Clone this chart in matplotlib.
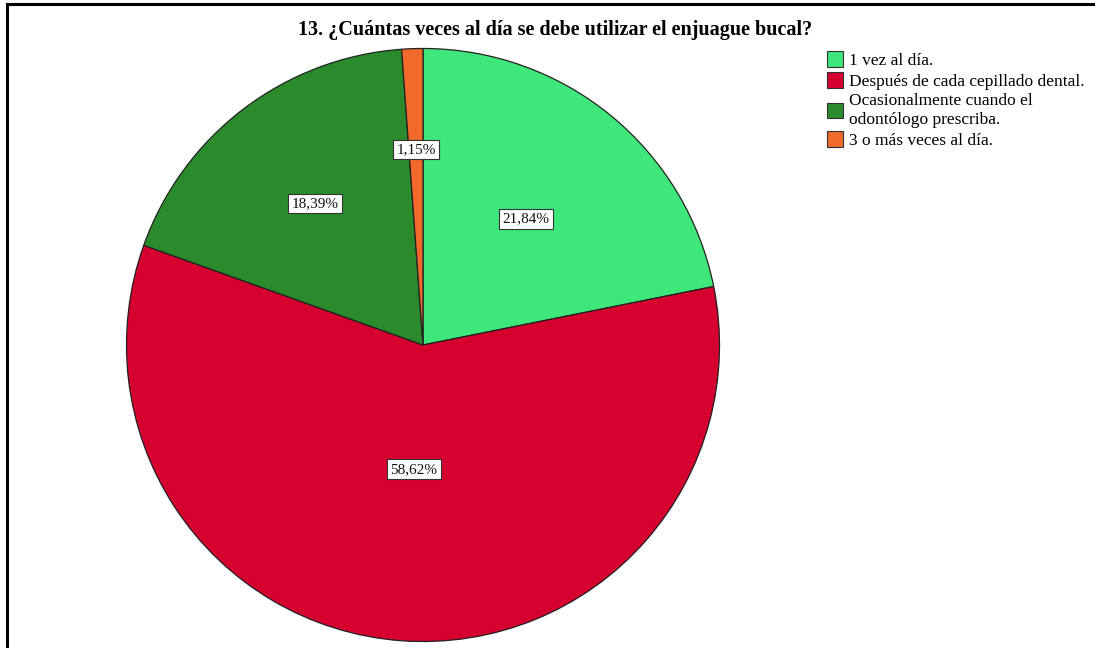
import matplotlib
matplotlib.use('Agg')
import numpy as np
from matplotlib import pyplot as plt
from matplotlib.lines import Line2D
from matplotlib.patches import Patch

# Chart data
title = '13. ¿Cuántas veces al día se debe utilizar el enjuague bucal?'
categories = ['1 vez al día.',
              'Después de cada cepillado dental.',
              'Ocasionalmente cuando el\nodontólogo prescriba.',
              '3 o más veces al día.']
percentages = [21.84, 58.62, 18.39, 1.15]
value_labels = ['21,84%', '58,62%', '18,39%', '1,15%']

# Styles
colors = ['#3FE67B', '#D5002F', '#2A8A2C', '#F26A2B']
label_dist = [0.55, 0.42, 0.60, 0.66]  # where SPSS put each label, as a fraction of the radius

W, H = 1095, 648
fig = plt.figure(figsize=(W / 100, H / 100), dpi=100)
plt.rcParams['font.family'] = ['Liberation Serif', 'DejaVu Serif']

# pie axes: centre (423, 345) px, radius 298 px
cx, cy, r = 423, 345, 298
ax = fig.add_axes([(cx - r) / W, (H - cy - r) / H, 2 * r / W, 2 * r / H])
wedges, _ = ax.pie(percentages, colors=colors, startangle=90, counterclock=False,
                   radius=1.0, wedgeprops=dict(edgecolor='#222222', linewidth=0.9))
ax.set_xlim(-1.005, 1.005)
ax.set_ylim(-1.005, 1.005)
ax.set_aspect('equal')
ax.axis('off')

# value labels in white boxes
for w, txt, d in zip(wedges, value_labels, label_dist):
    mid = np.deg2rad((w.theta1 + w.theta2) / 2)
    ax.text(d * np.cos(mid), d * np.sin(mid), txt, ha='center', va='center',
            fontsize=11, color='#111111',
            bbox=dict(boxstyle='square,pad=0.22', facecolor='white',
                      edgecolor='#333333', linewidth=0.8))

# title
fig.text(555 / W, 1 - 30 / H, title, ha='center', va='center',
         fontsize=14.5, fontweight='bold')

# legend
handles = [Patch(facecolor=c, edgecolor='#333333', linewidth=0.8) for c in colors]
fig.legend(handles, categories, loc='upper left', bbox_to_anchor=(827 / W, 1 - 51 / H),
           frameon=False, fontsize=12.5, handlelength=0.95, handleheight=1.0,
           handletextpad=0.3, labelspacing=0.2, borderpad=0, borderaxespad=0)

# frame around the figure (top and left edges visible)
fig.add_artist(Line2D([7 / W, 7 / W], [0, 1 - 4 / H], color='black', linewidth=2.2,
                      transform=fig.transFigure))
fig.add_artist(Line2D([7 / W, 1], [1 - 4 / H, 1 - 4 / H], color='black', linewidth=2.2,
                      transform=fig.transFigure))

fig.savefig('out.png', dpi=100)
